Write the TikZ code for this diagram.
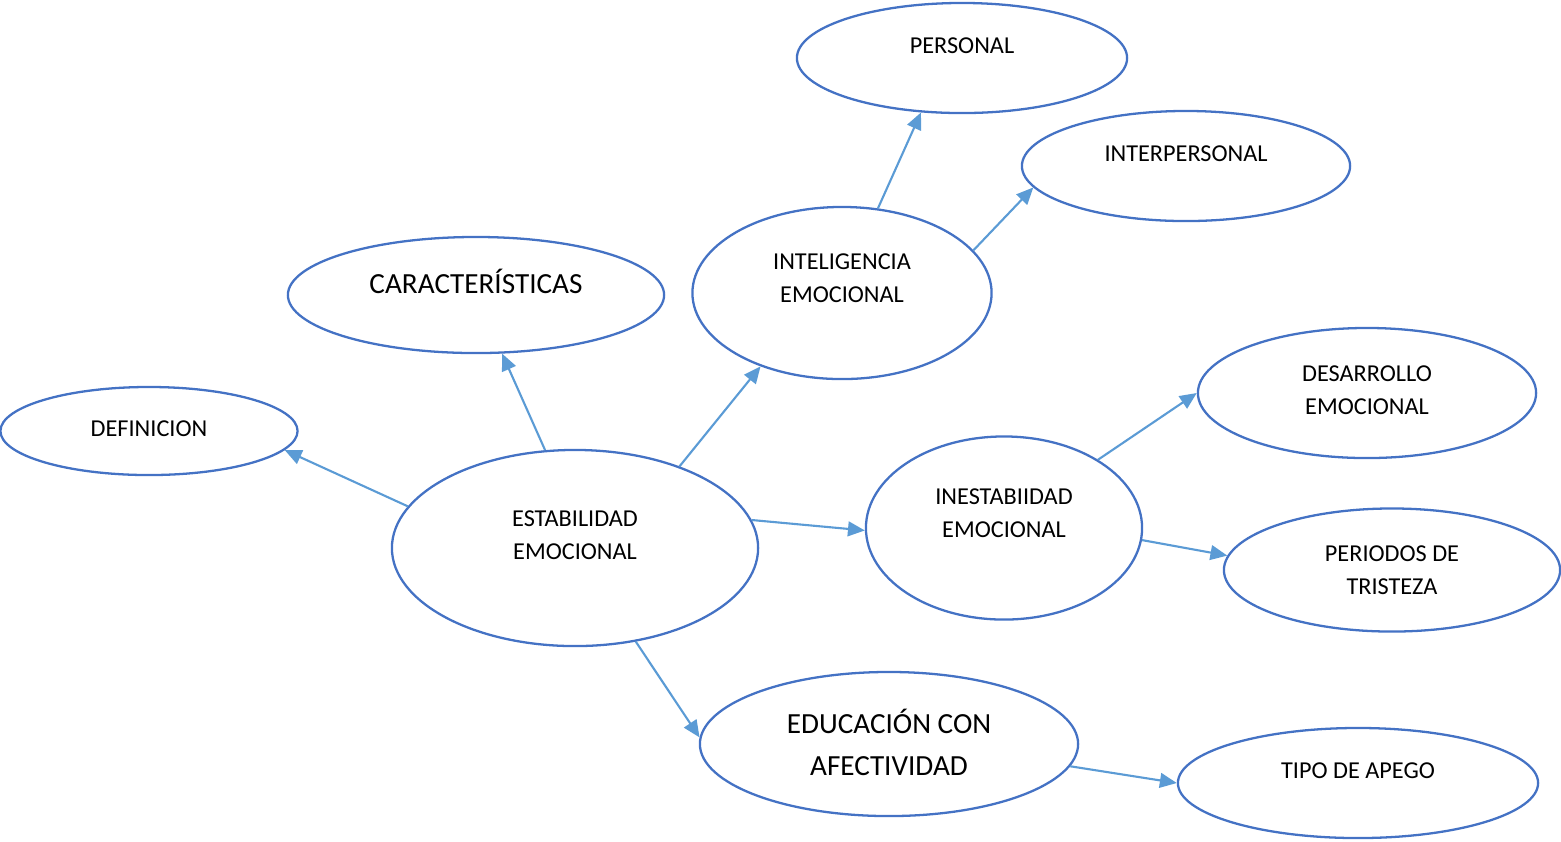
\documentclass[tikz,border=0pt]{standalone}
\usepackage{fontspec}
\setmainfont{Carlito}
\usepackage{tikz}
\usetikzlibrary{positioning, shapes, arrows.meta, calc}
\usepackage{xcolor}

\definecolor{ringblue}{HTML}{4472C4}
\definecolor{linkblue}{HTML}{5B9BD5}

\tikzset{
    bubble/.style={ellipse, draw=ringblue, line width=0.65pt, inner sep=0pt},
    small/.style={align=center, font=\fontsize{6.9pt}{9.3pt}\selectfont},
    big/.style={align=center, font=\fontsize{8.3pt}{11.9pt}\selectfont},
    link/.style={draw=linkblue, line width=0.6pt, -{Triangle[length=4.8pt, width=4.2pt]}}
}

\begin{document}
\begin{tikzpicture}[x=0.01cm, y=-0.01cm]
    \useasboundingbox (0,0) rectangle (1561,841);

    % Ellipses
    \node[bubble, minimum width=3.30cm, minimum height=1.10cm] (personal) at (962,58) {};
    \node[bubble, minimum width=3.28cm, minimum height=1.10cm] (interp) at (1186,166) {};
    \node[bubble, minimum width=3.76cm, minimum height=1.16cm] (caract) at (476,295) {};
    \node[bubble, minimum width=2.99cm, minimum height=1.72cm] (intel) at (842,293) {};
    \node[bubble, minimum width=2.97cm, minimum height=0.88cm] (defn) at (149,431) {};
    \node[bubble, minimum width=3.38cm, minimum height=1.30cm] (desarr) at (1367,393) {};
    \node[bubble, minimum width=3.66cm, minimum height=1.96cm] (estab) at (575,548) {};
    \node[bubble, minimum width=2.76cm, minimum height=1.83cm] (inest) at (1004,528) {};
    \node[bubble, minimum width=3.36cm, minimum height=1.23cm] (tristeza) at (1392,570) {};
    \node[bubble, minimum width=3.78cm, minimum height=1.44cm] (educ) at (889,744) {};
    \node[bubble, minimum width=3.60cm, minimum height=1.10cm] (apego) at (1358,783) {};

    % Texts
    \node[small] (personaltxt) at (962,46) {PERSONAL};
    \node[small] (interptxt) at (1186,154) {INTERPERSONAL};
    \node[big] (caracttxt) at (476,281) {CARACTERÍSTICAS};
    \node[small] (inteltxt) at (842,278) {INTELIGENCIA\\EMOCIONAL};
    \node[small] (defntxt) at (149,429) {DEFINICION};
    \node[small] (desarrtxt) at (1367,390) {DESARROLLO\\EMOCIONAL};
    \node[small] (estabtxt) at (575,535) {ESTABILIDAD\\EMOCIONAL};
    \node[small] (inesttxt) at (1004,513) {INESTABIIDAD\\EMOCIONAL};
    \node[small] (tristezatxt) at (1392,570) {PERIODOS DE\\TRISTEZA};
    \node[big] (eductxt) at (889,742) {EDUCACIÓN CON\\AFECTIVIDAD};
    \node[small] (apegotxt) at (1358,771) {TIPO DE APEGO};

    % Arrows
    \foreach \a/\b in {estab.166/defn.-8, estab.107/caract.-66, estab.38/intel.222,
                       estab.9/inest.181, estab.-57/educ.178, intel.67/personal.233,
                       intel.18/interp.188, inest.36/desarr.180, inest.-5/tristeza.175,
                       educ.-7/apego.180} {
        \draw[link] (\a) -- (\b);
    }

\end{tikzpicture}
\end{document}
